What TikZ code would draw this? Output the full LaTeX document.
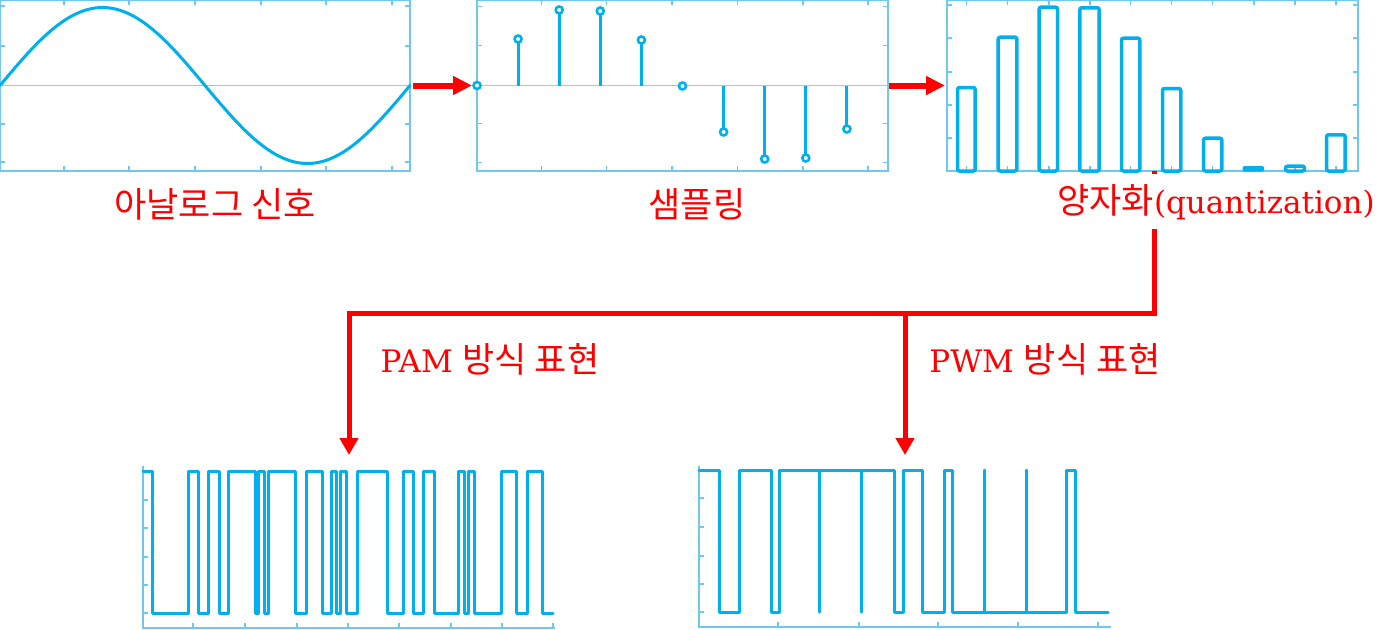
\documentclass[tikz,border=0pt]{standalone}
\usepackage{fontspec}
\setmainfont{DejaVu Serif}
\newfontfamily\kr[Scale=1.13]{Noto Sans CJK KR}
\usetikzlibrary{arrows.meta,calc}
\definecolor{sig}{RGB}{0,176,236}
\definecolor{frm}{RGB}{110,200,240}
\definecolor{zl}{RGB}{130,210,245}
\definecolor{rd}{RGB}{255,0,0}
\begin{document}
\begin{tikzpicture}[x=1pt,y=-1pt,
  panel/.style={draw=frm, line width=1.5pt, inner sep=0pt, outer sep=0pt, anchor=north west},
  box/.style={inner sep=0pt, outer sep=0pt, anchor=north west},
  tk/.style={draw=frm, line width=1.2pt},
  axisline/.style={draw=frm, line width=1.5pt},
  zline/.style={draw=zl, line width=1.8pt},
  sigline/.style={draw=sig, line width=3pt, line join=round, line cap=round},
  qbar/.style={draw=sig, line width=3.5pt, rounded corners=2pt},
  sstem/.style={draw=sig, line width=3pt},
  sdot/.style={draw=sig, fill=white, line width=2.6pt},
  redarrow/.style={draw=rd, line width=6pt, -{Triangle[width=18pt,length=19pt]}},
  redline/.style={draw=rd, line width=5pt},
  redtip/.style={-{Triangle[width=18pt,length=17pt]}},
  txt/.style={text=rd, font=\fontsize{31}{37}\selectfont, inner sep=0pt, anchor=base},
]
\useasboundingbox[fill=white] (0,0) rectangle (1396,629);

% ---------- panel 1: analog signal
\node[panel, minimum width=410pt, minimum height=171pt] (p1) at (0,0) {};
\draw[zline] (p1.west) -- (p1.east);
\foreach \x in {64,129,195,261,326,392} {\draw[tk] (\x,171) -- (\x,166); \draw[tk] (\x,0) -- (\x,5);}
\foreach \y in {6,46,124,162} {\draw[tk] (0,\y) -- (5,\y); \draw[tk] (410,\y) -- (405,\y);}
\draw[sigline] plot[domain=0:410,samples=120,smooth] (\x,{85.5-78*sin(0.878049*\x)});

% ---------- panel 2: sampling
\node[panel, minimum width=411pt, minimum height=171pt] (p2) at (477,0) {};
\draw[zline] (p2.west) -- (p2.east);
\foreach \x in {541.7,606.7,672,737.7,803,868} {\draw[tk] (\x,171) -- (\x,166); \draw[tk] (\x,0) -- (\x,5);}
\foreach \y in {6.7,45.7,123.7,162.7} {\draw[tk] (477,\y) -- (482,\y); \draw[tk] (888,\y) -- (883,\y);}
\foreach \x/\y in {477/85.5, 518.1/39, 559.2/10, 600.3/11, 641.4/40, 682.5/86, 723.6/132, 764.7/159, 805.8/158, 846.9/129}
  {\draw[sstem] (\x,85.5) -- (\x,\y); \draw[sdot] (\x,\y) circle[radius=3.5pt];}

% ---------- panel 3: quantization
\node[panel, minimum width=411pt, minimum height=171pt] (p3) at (947,0) {};
\foreach \x in {966.7,1007.7,1049,1090,1130.7,1171.7,1212.7,1254,1295,1336} {\draw[tk] (\x,0) -- (\x,5); \draw[tk] (\x,171) -- (\x,166);}
\foreach \y in {5,38,72,105,138} {\draw[tk] (947,\y) -- (952,\y); \draw[tk] (1358,\y) -- (1353,\y);}
\foreach \a/\b/\t in {956/976.7/86, 996.7/1018.3/35.7, 1037.7/1059/5.7, 1078.3/1100.7/6.3, 1120/1141.3/36.7, 1161/1182.3/87, 1202/1223.3/136.7, 1284/1306/164.7, 1325/1346.7/133.3}
  {\draw[qbar] (\a+1.5,171) rectangle (\b-1.5,\t+1.5);}
\fill[sig, rounded corners=1.5pt] (1242.7,166) rectangle (1264,171.5);

% ---------- arrows between panels
\draw[redarrow] ([xshift=3pt]p1.east) -- ([xshift=-5pt]p2.west);
\draw[redarrow] ([xshift=1pt]p2.east) -- ([xshift=-2pt]p3.west);

% ---------- bottom panels
\node[box, minimum width=412pt, minimum height=162pt] (pam) at (143,466) {};
\node[box, minimum width=412pt, minimum height=161pt] (pwm) at (699,466) {};
\draw[axisline] (pam.north west) -- (pam.south west) -- (pam.south east);
\draw[axisline] (pwm.north west) -- (pwm.south west) -- (pwm.south east);
\foreach \y in {500,528,557,585,613} {\draw[tk] (143,\y) -- (148,\y);}
\foreach \x in {193,245,297,348,399,451,502,553} {\draw[tk] (\x,628) -- (\x,623);}
\foreach \y in {498,527,556,584,612} {\draw[tk] (699,\y) -- (704,\y);}
\foreach \x in {778,859,938,1018,1098} {\draw[tk] (\x,627) -- (\x,622);}

% PAM signal
\draw[sigline] (143,471) -- (152,471) -- (152,613) -- (188,613) -- (188,471) -- (198,471) -- (198,613) -- (208,613) -- (208,471) -- (219,471) -- (219,613) -- (228,613) -- (228,471) -- (255,471) -- (255,613) -- (258.5,613) -- (258.5,471) -- (264.5,471) -- (264.5,613) -- (268,613) -- (268,471) -- (295,471) -- (295,613) -- (306,613) -- (306,471) -- (322,471) -- (322,613) -- (331.5,613) -- (331.5,471) -- (336,471) -- (336,613) -- (340,613) -- (340,471) -- (346.5,471) -- (346.5,613) -- (357,613) -- (357,471) -- (387,471) -- (387,613) -- (403,613) -- (403,471) -- (413,471) -- (413,613) -- (423,613) -- (423,471) -- (434,471) -- (434,613) -- (458,613) -- (458,471) -- (464,471) -- (464,613) -- (468,613) -- (468,471) -- (474,471) -- (474,613) -- (501,613) -- (501,471) -- (516,471) -- (516,613) -- (527,613) -- (527,471) -- (542,471) -- (542,613) -- (553,613);

% PWM signal
\draw[sigline] (699,470) -- (719,470) -- (719,612) -- (739,612) -- (739,470) -- (771,470) -- (771,612) -- (779,612) -- (779,470) -- (819,470) -- (819,612) -- (819,470) -- (861,470) -- (861,612) -- (861,470) -- (894,470) -- (894,612) -- (903,612) -- (903,470) -- (922,470) -- (922,612) -- (944,612) -- (944,470) -- (952,470) -- (952,612) -- (984,612) -- (984,470) -- (984,612) -- (1026,612) -- (1026,470) -- (1026,612) -- (1066,612) -- (1066,470) -- (1075,470) -- (1075,612) -- (1108,612);

% ---------- red connectors to bottom
\coordinate (qa) at (1154,171);
\coordinate (hl) at (0,313);
\draw[redline, redtip] (qa) -- (qa |- hl) -| ([yshift=11pt]pam.north);
\draw[redline, redtip] (pwm.north |- hl) -- ([yshift=11pt]pwm.north);

% ---------- labels
\node[txt] (l1) at (215,217) {{\kr 아날로그 신호}};
\node[txt] (l2) at (697,217) {{\kr 샘플링}};
\node[txt, fill=white, inner ysep=10pt, inner xsep=2pt] (l3) at (1216,213) {{\kr 양자화}(quantization)};
\node[txt] (l4) at (490,372) {PAM {\kr 방식 표현}};
\node[txt] (l5) at (1045,372) {PWM {\kr 방식 표현}};
\end{tikzpicture}
\end{document}
